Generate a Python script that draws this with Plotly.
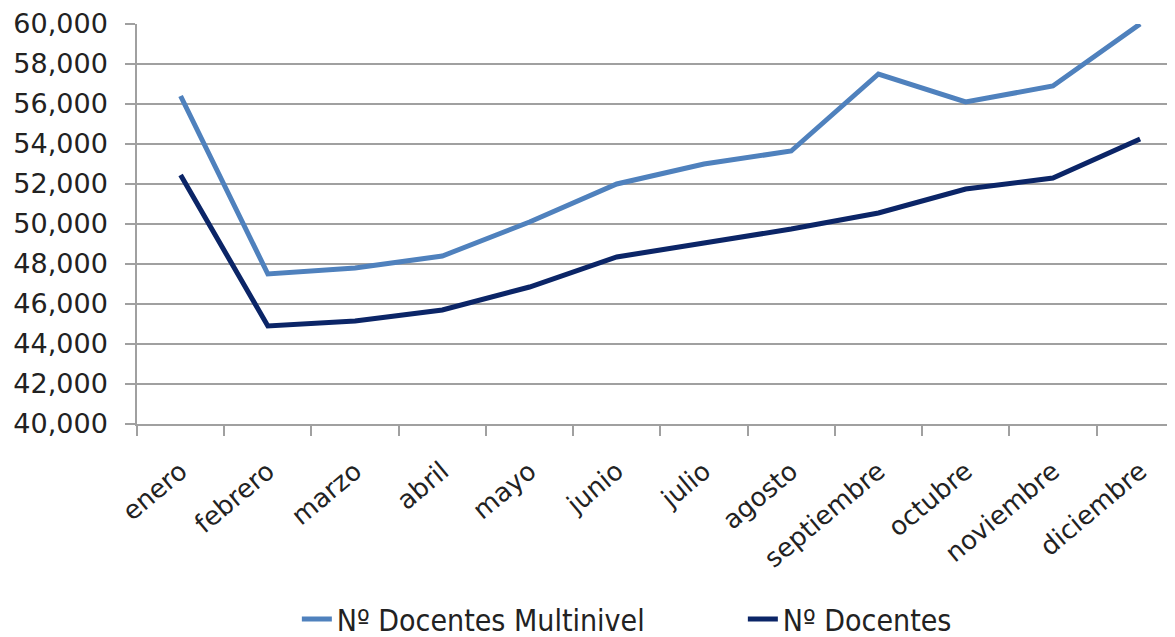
import plotly.graph_objects as go

months = ["enero", "febrero", "marzo", "abril", "mayo", "junio", "julio",
          "agosto", "septiembre", "octubre", "noviembre", "diciembre"]
multinivel = [56400, 47500, 47800, 48400, 50100, 52000, 53000, 53650,
              57500, 56100, 56900, 60000]
docentes = [52450, 44900, 45150, 45700, 46850, 48350, 49050, 49750,
            50550, 51750, 52300, 54250]
y_ticks = list(range(40000, 60001, 2000))

fig = go.Figure()
fig.add_trace(go.Scatter(x=months, y=multinivel, mode="lines",
                         name="Nº Docentes Multinivel",
                         line=dict(color="#4F81BD", width=5),
                         cliponaxis=False))
fig.add_trace(go.Scatter(x=months, y=docentes, mode="lines",
                         name="Nº Docentes",
                         line=dict(color="#0B2567", width=5),
                         cliponaxis=False))

# The page body adds an 8px offset, so the figure is sized to fill the rest.
fig.update_layout(
    width=1167, height=629,
    margin=dict(l=129, r=0, t=16, b=213, autoexpand=False),
    paper_bgcolor="white", plot_bgcolor="white",
    font=dict(family="DejaVu Sans", size=26, color="#222222"),
    showlegend=True,
    legend=dict(orientation="h", x=0.154, xanchor="left",
                y=-0.4875, yanchor="middle",
                font=dict(family="Liberation Sans Narrow, DejaVu Sans Condensed, sans-serif",
                          size=30, color="#222222"),
                entrywidth=401, entrywidthmode="pixels",
                bgcolor="rgba(0,0,0,0)"),
)
fig.update_xaxes(
    type="category", range=[-0.5, 11.4], automargin=False,
    showline=True, linecolor="#A0A0A0", linewidth=1.5,
    ticks="outside", ticklen=10, tickcolor="#A0A0A0", tickwidth=1.5,
    tickson="boundaries", tickangle=-40, showgrid=False,
    ticklabelstandoff=20,
    tickfont=dict(family="DejaVu Sans", size=26, color="#222222"),
)
fig.update_yaxes(
    range=[40000, 60000], tickvals=y_ticks, tickformat=",", automargin=False,
    showline=True, linecolor="#A0A0A0", linewidth=1.5,
    ticks="outside", ticklen=10, tickcolor="#A0A0A0", tickwidth=1.5,
    showgrid=True, gridcolor="#A0A0A0", gridwidth=1.5, zeroline=False,
    ticklabelstandoff=12,
    tickfont=dict(family="DejaVu Sans", size=27, color="#222222"),
)

fig.write_html("out.html")
